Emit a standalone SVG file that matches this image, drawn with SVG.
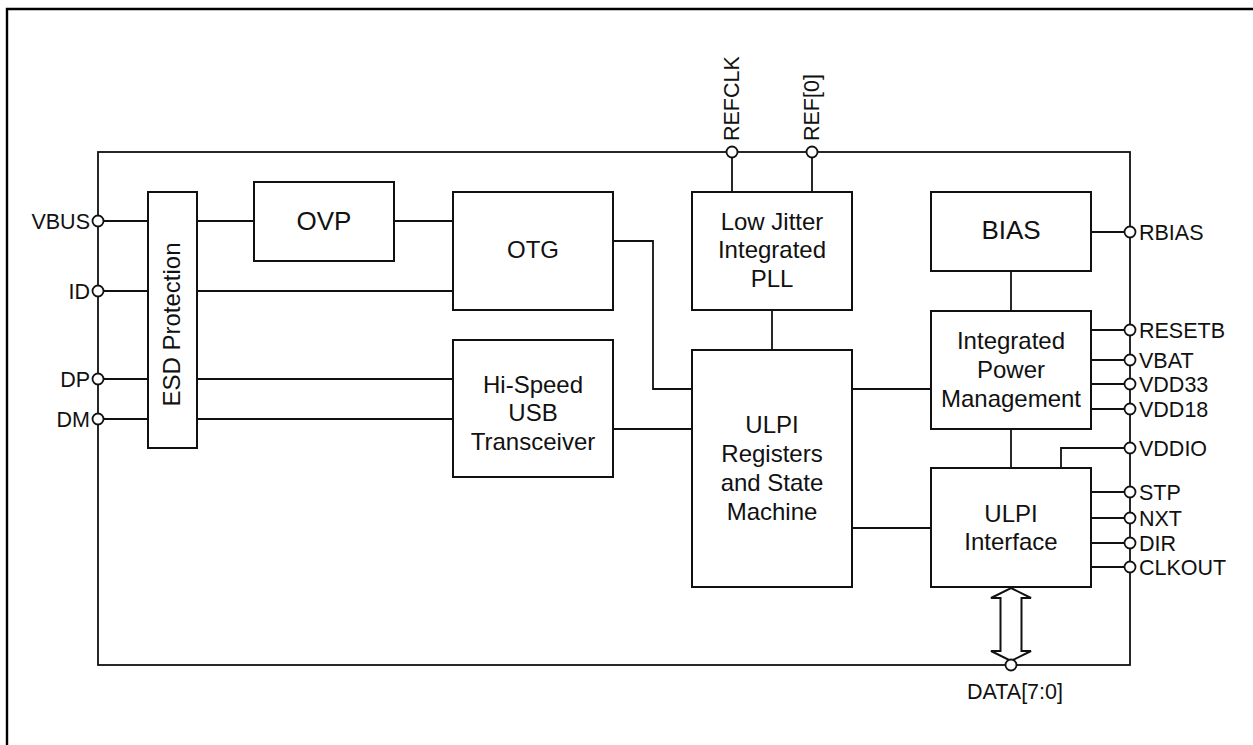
<svg xmlns="http://www.w3.org/2000/svg" width="1253" height="745" viewBox="0 0 1253 745">
<style>
.box{fill:#fff;stroke:#111;stroke-width:2}
.ln{fill:none;stroke:#111;stroke-width:1.8}
.pin{fill:#fff;stroke:#111;stroke-width:1.8}
.t{font-family:"Liberation Sans",Arial,sans-serif;font-size:24px;fill:#111;text-anchor:middle}
.tb{font-family:"Liberation Sans",Arial,sans-serif;font-size:26px;fill:#111;text-anchor:middle}
.pl{font-family:"Liberation Sans",Arial,sans-serif;font-size:21.5px;fill:#111}
.r{text-anchor:end}
</style>
<rect width="1253" height="745" fill="#fff"/>
<path d="M7,745 V9 H1253" fill="none" stroke="#000" stroke-width="2.4"/>
<g id="chip"><rect x="98" y="152" width="1032" height="513" fill="none" stroke="#111" stroke-width="1.8"/></g>
<g id="connectors">
<path class="ln" d="M98,221 H148 M197,221 H254 M394,221 H453"/>
<path class="ln" d="M98,291 H148 M197,291 H453"/>
<path class="ln" d="M98,379 H148 M197,379 H453"/>
<path class="ln" d="M98,419 H148 M197,419 H453"/>
<path class="ln" d="M613,241 H653 V389 H692"/>
<path class="ln" d="M613,429 H692"/>
<path class="ln" d="M732,152 V192 M812,152 V192"/>
<path class="ln" d="M772,310 V350"/>
<path class="ln" d="M852,389 H931"/>
<path class="ln" d="M852,528 H931"/>
<path class="ln" d="M1091,232 H1130"/>
<path class="ln" d="M1011,271 V311"/>
<path class="ln" d="M1091,330 H1130 M1091,360 H1130 M1091,384 H1130 M1091,409 H1130"/>
<path class="ln" d="M1011,429 V468"/>
<path class="ln" d="M1061,468 V448 H1130"/>
<path class="ln" d="M1091,492 H1130 M1091,518 H1130 M1091,543 H1130 M1091,567 H1130"/>
<polygon class="box" stroke-width="1.8" points="1011,588 1031,598 1021.5,598 1021.5,651 1031,651 1011,661 991,651 1000.5,651 1000.5,598 991,598"/>
</g>
<g id="esd"><rect class="box" x="148" y="192" width="49" height="256"/><text class="t" transform="translate(180,324.5) rotate(-90)">ESD Protection</text></g>
<g id="ovp"><rect class="box" x="254" y="182" width="140" height="79"/><text class="tb" x="324" y="229.5">OVP</text></g>
<g id="otg"><rect class="box" x="453" y="192" width="160" height="118"/><text class="t" x="533" y="258">OTG</text></g>
<g id="hispeed"><rect class="box" x="453" y="340" width="160" height="137"/><text class="t" x="533" y="392.5">Hi-Speed</text><text class="t" x="533" y="421">USB</text><text class="t" x="533" y="449.5">Transceiver</text></g>
<g id="pll"><rect class="box" x="692" y="192" width="160" height="118"/><text class="t" x="772" y="230">Low Jitter</text><text class="t" x="772" y="258.3">Integrated</text><text class="t" x="772" y="286.6">PLL</text></g>
<g id="ulpireg"><rect class="box" x="692" y="350" width="160" height="237"/><text class="t" x="772" y="433.2">ULPI</text><text class="t" x="772" y="462">Registers</text><text class="t" x="772" y="490.8">and State</text><text class="t" x="772" y="519.6">Machine</text></g>
<g id="bias"><rect class="box" x="931" y="192" width="160" height="79"/><text class="tb" x="1011" y="239.3">BIAS</text></g>
<g id="ipm"><rect class="box" x="931" y="311" width="160" height="118"/><text class="t" x="1011" y="349">Integrated</text><text class="t" x="1011" y="378">Power</text><text class="t" x="1011" y="407">Management</text></g>
<g id="ulpiif"><rect class="box" x="931" y="468" width="160" height="119"/><text class="t" x="1011" y="522.2">ULPI</text><text class="t" x="1011" y="550">Interface</text></g>
<g id="pins">
<circle class="pin" cx="98" cy="221" r="5.5"/><text class="pl r" x="90" y="229">VBUS</text>
<circle class="pin" cx="98" cy="291" r="5.5"/><text class="pl r" x="90" y="298.5">ID</text>
<circle class="pin" cx="98" cy="379" r="5.5"/><text class="pl r" x="90" y="386.5">DP</text>
<circle class="pin" cx="98" cy="419" r="5.5"/><text class="pl r" x="90" y="426.5">DM</text>
<circle class="pin" cx="732" cy="152" r="5.5"/><text class="pl" transform="translate(739,141) rotate(-90)">REFCLK</text>
<circle class="pin" cx="812" cy="152" r="5.5"/><text class="pl" transform="translate(819,141) rotate(-90)">REF[0]</text>
<circle class="pin" cx="1130" cy="232" r="5.5"/><text class="pl" x="1139" y="239.5">RBIAS</text>
<circle class="pin" cx="1130" cy="330" r="5.5"/><text class="pl" x="1139" y="337.7">RESETB</text>
<circle class="pin" cx="1130" cy="360" r="5.5"/><text class="pl" x="1139" y="367.7">VBAT</text>
<circle class="pin" cx="1130" cy="384" r="5.5"/><text class="pl" x="1139" y="391.7">VDD33</text>
<circle class="pin" cx="1130" cy="409" r="5.5"/><text class="pl" x="1139" y="416.7">VDD18</text>
<circle class="pin" cx="1130" cy="448" r="5.5"/><text class="pl" x="1139" y="456">VDDIO</text>
<circle class="pin" cx="1130" cy="492" r="5.5"/><text class="pl" x="1139" y="500">STP</text>
<circle class="pin" cx="1130" cy="518" r="5.5"/><text class="pl" x="1139" y="525.5">NXT</text>
<circle class="pin" cx="1130" cy="543" r="5.5"/><text class="pl" x="1139" y="550.5">DIR</text>
<circle class="pin" cx="1130" cy="567" r="5.5"/><text class="pl" x="1139" y="575">CLKOUT</text>
<circle class="pin" cx="1011" cy="665" r="5.5"/><text class="pl" x="1015" y="699" text-anchor="middle">DATA[7:0]</text>
</g>
</svg>
